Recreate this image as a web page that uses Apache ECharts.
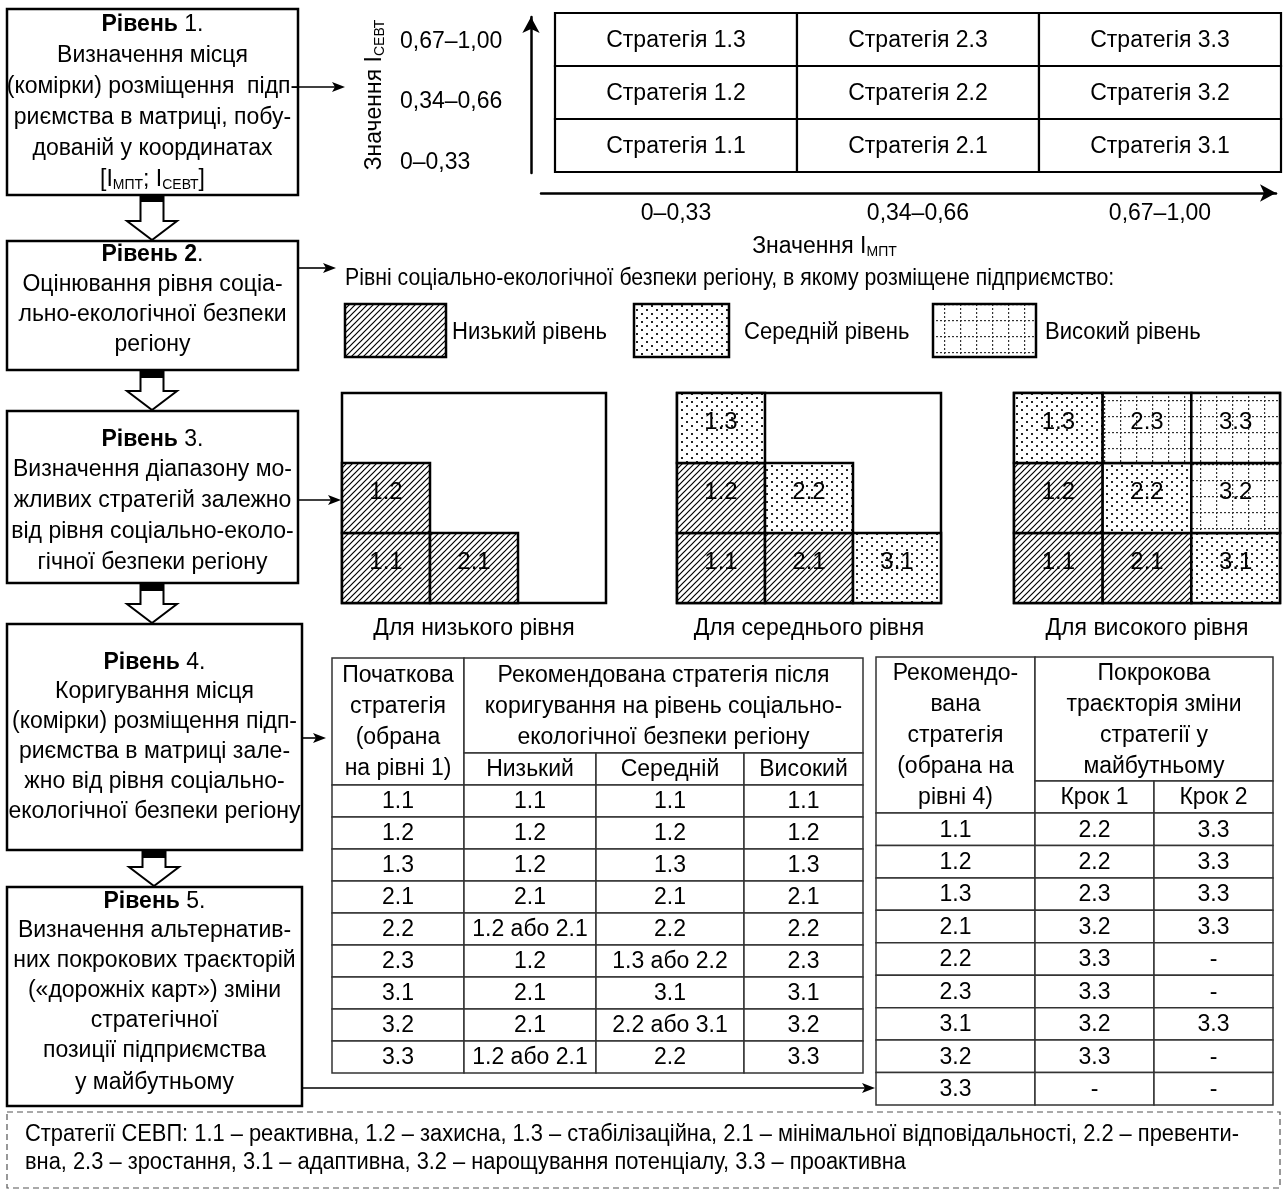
<!DOCTYPE html>
<html><head><meta charset="utf-8"><title>Strategy matrix</title>
<script src="https://cdn.jsdelivr.net/npm/echarts@6/dist/echarts.min.js"></script>
<style>html,body{margin:0;padding:0;background:#fff;}#chart{width:1283px;height:1192px;}</style>
</head><body><div id="chart"></div>
<script>
// ================= DATA =================
const mptRanges = ['0–0,33', '0,34–0,66', '0,67–1,00'];
const sevtRanges = ['0–0,33', '0,34–0,66', '0,67–1,00'];
const strategyCodes = ['1.1', '1.2', '1.3', '2.1', '2.2', '2.3', '3.1', '3.2', '3.3'];
const strategyPrefix = 'Стратегія ';
const legendTitle = 'Рівні соціально-екологічної безпеки регіону, в якому розміщене підприємство:';
const safetyLevels = ['Низький рівень', 'Середній рівень', 'Високий рівень'];
const safetyKeys = ['low', 'mid', 'high'];
const rangeForLow = [['1.1', 'low'], ['1.2', 'low'], ['2.1', 'low']];
const rangeForMid = [['1.1', 'low'], ['1.2', 'low'], ['2.1', 'low'], ['1.3', 'mid'], ['2.2', 'mid'], ['3.1', 'mid']];
const rangeForHigh = [['1.1', 'low'], ['1.2', 'low'], ['2.1', 'low'], ['1.3', 'mid'], ['2.2', 'mid'], ['3.1', 'mid'], ['2.3', 'high'], ['3.2', 'high'], ['3.3', 'high']];
const rangeCaptions = ['Для низького рівня', 'Для середнього рівня', 'Для високого рівня'];

const t1Header = ['Початкова\nстратегія\n(обрана\nна рівні 1)', 'Рекомендована стратегія після\nкоригування на рівень соціально-\nекологічної безпеки регіону'];
const t1SubHeader = ['Низький', 'Середній', 'Високий'];
const t1Low = ['1.1', '1.2', '1.2', '2.1', '1.2 або 2.1', '1.2', '2.1', '2.1', '1.2 або 2.1'];
const t1Mid = ['1.1', '1.2', '1.3', '2.1', '2.2', '1.3 або 2.2', '3.1', '2.2 або 3.1', '2.2'];
const t1High = ['1.1', '1.2', '1.3', '2.1', '2.2', '2.3', '3.1', '3.2', '3.3'];

const t2Header = ['Рекомендо-\nвана\nстратегія\n(обрана на\nрівні 4)', 'Покрокова\nтраєкторія зміни\nстратегії у\nмайбутньому'];
const t2SubHeader = ['Крок 1', 'Крок 2'];
const t2Step1 = ['2.2', '2.2', '2.3', '3.2', '3.3', '3.3', '3.2', '3.3', '-'];
const t2Step2 = ['3.3', '3.3', '3.3', '3.3', '-', '-', '3.3', '-', '-'];

const levelTexts = [
  ['{b|Рівень} 1.', 'Визначення місця', '(комірки) розміщення  підп-', 'риємства в матриці, побу-', 'дованій у координатах', '[I{s|МПТ}; I{s|СЕВТ}]'],
  ['{b|Рівень 2}.', 'Оцінювання рівня соціа-', 'льно-екологічної безпеки', 'регіону'],
  ['{b|Рівень} 3.', 'Визначення діапазону мо-', 'жливих стратегій залежно', 'від рівня соціально-еколо-', 'гічної безпеки регіону'],
  ['{b|Рівень} 4.', 'Коригування місця', '(комірки) розміщення підп-', 'риємства в матриці зале-', 'жно від рівня соціально-', 'екологічної безпеки регіону'],
  ['{b|Рівень} 5.', 'Визначення альтернатив-', 'них покрокових траєкторій', '(«дорожніх карт») зміни', 'стратегічної', 'позиції підприємства', 'у майбутньому']
];
const footnoteLines = [
  'Стратегії СЕВП: 1.1 – реактивна, 1.2 – захисна, 1.3 – стабілізаційна, 2.1 – мінімальної відповідальності, 2.2 – превенти-',
  'вна, 2.3 – зростання, 3.1 – адаптивна, 3.2 – нарощування потенціалу, 3.3 – проактивна'
];

// ================= STYLE / LAYOUT =================
const FONT = "'Liberation Sans', Arial, Helvetica, sans-serif";
const FS = 23;
const RICH = {
  b: { fontWeight: 'bold', fontSize: FS, fontFamily: FONT, fill: '#000', color: '#000' },
  s: { fontSize: 14, fontFamily: FONT, lineHeight: 24, verticalAlign: 'bottom', fill: '#000', color: '#000' }
};

function makePattern(w, h, draw) {
  const c = document.createElement('canvas');
  c.width = w; c.height = h;
  const g = c.getContext('2d');
  g.fillStyle = '#fff'; g.fillRect(0, 0, w, h);
  draw(g);
  return { image: c, repeat: 'repeat' };
}
const patterns = {
  low: makePattern(6, 6, g => {
    g.strokeStyle = '#000'; g.lineWidth = 1.2; g.beginPath();
    g.moveTo(0, 6); g.lineTo(6, 0);
    g.moveTo(-1, 1); g.lineTo(1, -1);
    g.moveTo(5, 7); g.lineTo(7, 5);
    g.stroke();
  }),
  mid: makePattern(10, 8, g => {
    g.fillStyle = '#222';
    g.fillRect(1, 1, 2, 2); g.fillRect(6, 5, 2, 2);
  }),
  high: makePattern(16, 16, g => {
    g.fillStyle = '#333';
    for (let i = 0; i < 16; i += 4) { g.fillRect(i, 0, 2, 1.2); g.fillRect(0, i, 1.2, 2); }
  })
};

function txt(x, y, text, opts) {
  opts = opts || {};
  const align = opts.align || 'center';
  return {
    type: 'text', x: x, y: y, scaleX: opts.scaleX || 1, silent: true,
    style: Object.assign({
      text: text, x: 0, y: 0, fontSize: FS, fontFamily: FONT, fill: '#000',
      align: align, textAlign: align, verticalAlign: 'middle', textVerticalAlign: 'middle', rich: RICH
    }, opts.style || {})
  };
}

// ===== flowchart boxes (left) =====
const boxes = [
  { x: 7, y: 9, w: 291, h: 186, lines: [25, 56, 87, 118, 149, 180] },
  { x: 7, y: 241, w: 291, h: 129, lines: [255, 285, 315, 345] },
  { x: 7, y: 411, w: 291, h: 172, lines: [440, 470, 501, 532, 563] },
  { x: 7, y: 624, w: 295, h: 226, lines: [663, 692, 722, 752, 782, 812] },
  { x: 7, y: 887, w: 295, h: 219, lines: [902, 931, 961, 991, 1021, 1051, 1083] }
];
const graphics = [];
boxes.forEach((b, i) => {
  graphics.push({ type: 'rect', silent: true, shape: { x: b.x, y: b.y, width: b.w, height: b.h }, style: { fill: '#fff', stroke: '#000', lineWidth: 2.5 } });
  levelTexts[i].forEach((t, k) => graphics.push(txt(b.x + b.w / 2, b.lines[k], t)));
});

// hollow block arrows between boxes
function hollowArrow(cx, y0, y1) {
  const sw = 11.5, hw = 25, hs = y1 - 19;
  graphics.push({ type: 'polygon', silent: true, shape: { points: [[cx - sw, y0], [cx + sw, y0], [cx + sw, hs], [cx + hw, hs], [cx, y1], [cx - hw, hs], [cx - sw, hs]] }, style: { fill: '#fff', stroke: '#000', lineWidth: 2 } });
  graphics.push({ type: 'rect', silent: true, shape: { x: cx - sw, y: y0, width: 2 * sw, height: 6 }, style: { fill: '#000' } });
}
hollowArrow(152, 196, 240);
hollowArrow(152, 372, 410);
hollowArrow(152, 585, 623);
hollowArrow(154, 852, 886);

// thin connector arrows
function thinArrow(x0, x1, y) {
  graphics.push({ type: 'line', silent: true, shape: { x1: x0, y1: y, x2: x1 - 8, y2: y }, style: { stroke: '#000', lineWidth: 1.6 } });
  graphics.push({ type: 'polygon', silent: true, shape: { points: [[x1 - 13, y - 5], [x1, y], [x1 - 13, y + 5], [x1 - 10, y]] }, style: { fill: '#000' } });
}
thinArrow(298, 345, 87);
thinArrow(298, 336, 268);
thinArrow(298, 341, 500);
thinArrow(302, 326, 738);
thinArrow(302, 875, 1088);

// legend of safety levels
graphics.push(txt(345, 279, legendTitle, { align: 'left', scaleX: 0.925 }));
const legendSwatches = [{ x: 345, w: 101, tx: 452 }, { x: 634, w: 95, tx: 744 }, { x: 933, w: 103, tx: 1045 }];
legendSwatches.forEach((s, i) => {
  graphics.push({ type: 'rect', silent: true, shape: { x: s.x, y: 304, width: s.w, height: 53 }, style: { fill: patterns[safetyKeys[i]], stroke: '#000', lineWidth: 2.5 } });
  graphics.push(txt(s.tx, 333, safetyLevels[i], { align: 'left', scaleX: 0.96 }));
});

// footnote
graphics.push({ type: 'rect', silent: true, shape: { x: 7, y: 1112, width: 1273, height: 76 }, style: { fill: 'none', stroke: '#555', lineWidth: 1.2, lineDash: [6, 4] } });
footnoteLines.forEach((l, i) => graphics.push(txt(25, 1135 + i * 28, l, { align: 'left', scaleX: 0.95 })));

// ================= SERIES =================
function codeToCell(code) { const p = code.split('.'); return [Number(p[0]) - 1, Number(p[1]) - 1]; }

// top strategy matrix
const topCells = strategyCodes.map(c => codeToCell(c));
function renderStrategy(params, api) {
  const x = api.value(0), y = api.value(1);
  const a = api.coord([x, y + 1]), b = api.coord([x + 1, y]);
  return { type: 'group', children: [
    { type: 'rect', shape: { x: a[0], y: a[1], width: b[0] - a[0], height: b[1] - a[1] }, style: { fill: '#fff', stroke: '#000', lineWidth: 2.2 } },
    { type: 'text', style: { text: strategyPrefix + strategyCodes[params.dataIndex], x: (a[0] + b[0]) / 2, y: (a[1] + b[1]) / 2 + 1, fontSize: FS, fontFamily: FONT, fill: '#000', align: 'center', textAlign: 'center', verticalAlign: 'middle', textVerticalAlign: 'middle' } }
  ] };
}

function rangeRenderer(list) {
  return function (params, api) {
    const x = api.value(0), y = api.value(1);
    const a = api.coord([x, y + 1]), b = api.coord([x + 1, y]);
    const item = list[params.dataIndex];
    return { type: 'group', children: [
      { type: 'rect', shape: { x: a[0], y: a[1], width: b[0] - a[0], height: b[1] - a[1] }, style: { fill: patterns[item[1]], stroke: '#000', lineWidth: 2.5 } },
      { type: 'text', style: { text: item[0], x: (a[0] + b[0]) / 2, y: (a[1] + b[1]) / 2 - 6, fontSize: 24, fontFamily: FONT, fill: '#000', align: 'center', textAlign: 'center', verticalAlign: 'middle', textVerticalAlign: 'middle' } }
    ] };
  };
}
function renderFrame(params, api) {
  const a = api.coord([0, 3]), b = api.coord([3, 0]);
  return { type: 'rect', shape: { x: a[0], y: a[1], width: b[0] - a[0], height: b[1] - a[1] }, style: { fill: '#fff', stroke: '#000', lineWidth: 2.5 } };
}

// tables
const t1ColEdges = [0, 132, 264, 412, 531];
const t1RowEdges = [0, 95, 127]; for (let k = 1; k <= 9; k++) t1RowEdges.push(127 + 32 * k);
const t2ColEdges = [0, 159, 278, 397];
const t2RowEdges = [0, 124, 156]; for (let k = 1; k <= 9; k++) t2RowEdges.push(156 + 32.44 * k);

function buildTable1() {
  const cells = [];
  cells.push({ c: 0, r: 0, cs: 1, rs: 2, t: t1Header[0] });
  cells.push({ c: 1, r: 0, cs: 3, rs: 1, t: t1Header[1] });
  t1SubHeader.forEach((s, i) => cells.push({ c: 1 + i, r: 1, cs: 1, rs: 1, t: s }));
  strategyCodes.forEach((code, k) => {
    [code, t1Low[k], t1Mid[k], t1High[k]].forEach((v, i) => cells.push({ c: i, r: 2 + k, cs: 1, rs: 1, t: v }));
  });
  return cells;
}
function buildTable2() {
  const cells = [];
  cells.push({ c: 0, r: 0, cs: 1, rs: 2, t: t2Header[0] });
  cells.push({ c: 1, r: 0, cs: 2, rs: 1, t: t2Header[1] });
  t2SubHeader.forEach((s, i) => cells.push({ c: 1 + i, r: 1, cs: 1, rs: 1, t: s }));
  strategyCodes.forEach((code, k) => {
    [code, t2Step1[k], t2Step2[k]].forEach((v, i) => cells.push({ c: i, r: 2 + k, cs: 1, rs: 1, t: v }));
  });
  return cells;
}
const table1 = buildTable1();
const table2 = buildTable2();
function tableRenderer(cells, colE, rowE) {
  return function (params, api) {
    const cell = cells[params.dataIndex];
    const a = api.coord([colE[cell.c], rowE[cell.r]]);
    const b = api.coord([colE[cell.c + cell.cs], rowE[cell.r + cell.rs]]);
    const x0 = Math.min(a[0], b[0]), y0 = Math.min(a[1], b[1]);
    const w = Math.abs(b[0] - a[0]), h = Math.abs(b[1] - a[1]);
    return { type: 'group', children: [
      { type: 'rect', shape: { x: x0, y: y0, width: w, height: h }, style: { fill: '#fff', stroke: '#333', lineWidth: 1.5 } },
      { type: 'text', style: { text: cell.t, x: x0 + w / 2, y: y0 + h / 2 + 1, fontSize: FS, lineHeight: 31, fontFamily: FONT, fill: '#000', align: 'center', textAlign: 'center', verticalAlign: 'middle', textVerticalAlign: 'middle' } }
    ] };
  };
}

// ================= AXES =================
const yLabelAnchors = [0.17, 1.32, 2.45];
function nearestIndex(arr, v) { let bi = 0; arr.forEach((a, i) => { if (Math.abs(a - v) < Math.abs(arr[bi] - v)) bi = i; }); return bi; }
const arrowLine = { show: true, onZero: false, symbol: ['none', 'arrow'], symbolSize: [13, 16], lineStyle: { color: '#000', width: 2.5 } };
function hiddenAxis(grid, extra) {
  return Object.assign({ type: 'value', gridIndex: grid, min: 0, max: 3, show: false, splitLine: { show: false } }, extra || {});
}
function captionAxis(grid, name) {
  return { type: 'value', gridIndex: grid, min: 0, max: 3, show: true, axisLine: { show: false }, axisTick: { show: false }, axisLabel: { show: false }, splitLine: { show: false },
    name: name, nameLocation: 'middle', nameGap: 14, nameTextStyle: { fontSize: FS, fontFamily: FONT, color: '#000' } };
}

const option = {
  backgroundColor: '#fff',
  animation: false,
  grid: [
    { left: 541, top: 17, width: 735, height: 156, outerBoundsMode: 'none' },
    { left: 342, top: 393, width: 264, height: 210, outerBoundsMode: 'none' },
    { left: 677, top: 393, width: 264, height: 210, outerBoundsMode: 'none' },
    { left: 1014, top: 393, width: 266, height: 210, outerBoundsMode: 'none' },
    { left: 332, top: 658, width: 531, height: 415, outerBoundsMode: 'none' },
    { left: 876, top: 657, width: 397, height: 448, outerBoundsMode: 'none' }
  ],
  xAxis: [
    { type: 'value', gridIndex: 0, min: -14 / 242, max: 721 / 242, offset: 20, axisLine: arrowLine, axisTick: { show: false }, splitLine: { show: false },
      axisLabel: { customValues: [0.5, 1.5, 2.5], formatter: v => mptRanges[nearestIndex([0.5, 1.5, 2.5], v)], margin: 9, fontSize: FS, fontFamily: FONT, color: '#000' },
      name: 'Значення I{s|МПТ}', nameLocation: 'middle', nameGap: 42,
      nameTextStyle: { fontSize: FS, fontFamily: FONT, color: '#000', padding: [0, 168, 0, 0], rich: { s: { fontSize: 14, fontFamily: FONT, color: '#000', lineHeight: 24, verticalAlign: 'bottom' } } } },
    captionAxis(1, rangeCaptions[0]),
    captionAxis(2, rangeCaptions[1]),
    captionAxis(3, rangeCaptions[2]),
    hiddenAxis(4, { max: 531 }),
    hiddenAxis(5, { max: 397 })
  ],
  yAxis: [
    { type: 'value', gridIndex: 0, min: -1 / 53, max: 155 / 53, position: 'left', offset: 10, axisLine: arrowLine, axisTick: { show: false }, splitLine: { show: false },
      axisLabel: { customValues: yLabelAnchors, formatter: v => sevtRanges[nearestIndex(yLabelAnchors, v)], align: 'left', margin: 131, fontSize: FS, fontFamily: FONT, color: '#000' },
      name: 'Значення I{s|СЕВТ}', nameLocation: 'middle', nameRotate: 90, nameGap: 144,
      nameTextStyle: { fontSize: FS, fontFamily: FONT, color: '#000', rich: { s: { fontSize: 14, fontFamily: FONT, color: '#000', lineHeight: 24, verticalAlign: 'bottom' } } } },
    hiddenAxis(1), hiddenAxis(2), hiddenAxis(3),
    hiddenAxis(4, { max: 415, inverse: true }),
    hiddenAxis(5, { max: 448, inverse: true })
  ],
  series: [
    { type: 'custom', name: 'Стратегії', xAxisIndex: 0, yAxisIndex: 0, clip: false, silent: true, renderItem: renderStrategy, data: topCells },
    { type: 'custom', xAxisIndex: 1, yAxisIndex: 1, clip: false, silent: true, renderItem: renderFrame, data: [[0, 0]] },
    { type: 'custom', xAxisIndex: 2, yAxisIndex: 2, clip: false, silent: true, renderItem: renderFrame, data: [[0, 0]] },
    { type: 'custom', xAxisIndex: 3, yAxisIndex: 3, clip: false, silent: true, renderItem: renderFrame, data: [[0, 0]] },
    { type: 'custom', name: rangeCaptions[0], xAxisIndex: 1, yAxisIndex: 1, clip: false, silent: true, renderItem: rangeRenderer(rangeForLow), data: rangeForLow.map(d => codeToCell(d[0])) },
    { type: 'custom', name: rangeCaptions[1], xAxisIndex: 2, yAxisIndex: 2, clip: false, silent: true, renderItem: rangeRenderer(rangeForMid), data: rangeForMid.map(d => codeToCell(d[0])) },
    { type: 'custom', name: rangeCaptions[2], xAxisIndex: 3, yAxisIndex: 3, clip: false, silent: true, renderItem: rangeRenderer(rangeForHigh), data: rangeForHigh.map(d => codeToCell(d[0])) },
    { type: 'custom', name: 'Таблиця 1', xAxisIndex: 4, yAxisIndex: 4, clip: false, silent: true, renderItem: tableRenderer(table1, t1ColEdges, t1RowEdges), data: table1.map(c => [t1ColEdges[c.c], t1RowEdges[c.r]]) },
    { type: 'custom', name: 'Таблиця 2', xAxisIndex: 5, yAxisIndex: 5, clip: false, silent: true, renderItem: tableRenderer(table2, t2ColEdges, t2RowEdges), data: table2.map(c => [t2ColEdges[c.c], t2RowEdges[c.r]]) }
  ],
  graphic: { elements: graphics }
};

const chart = echarts.init(document.getElementById('chart'), null, { renderer: 'canvas', width: 1283, height: 1192 });
chart.setOption(option);
</script>
</body></html>
